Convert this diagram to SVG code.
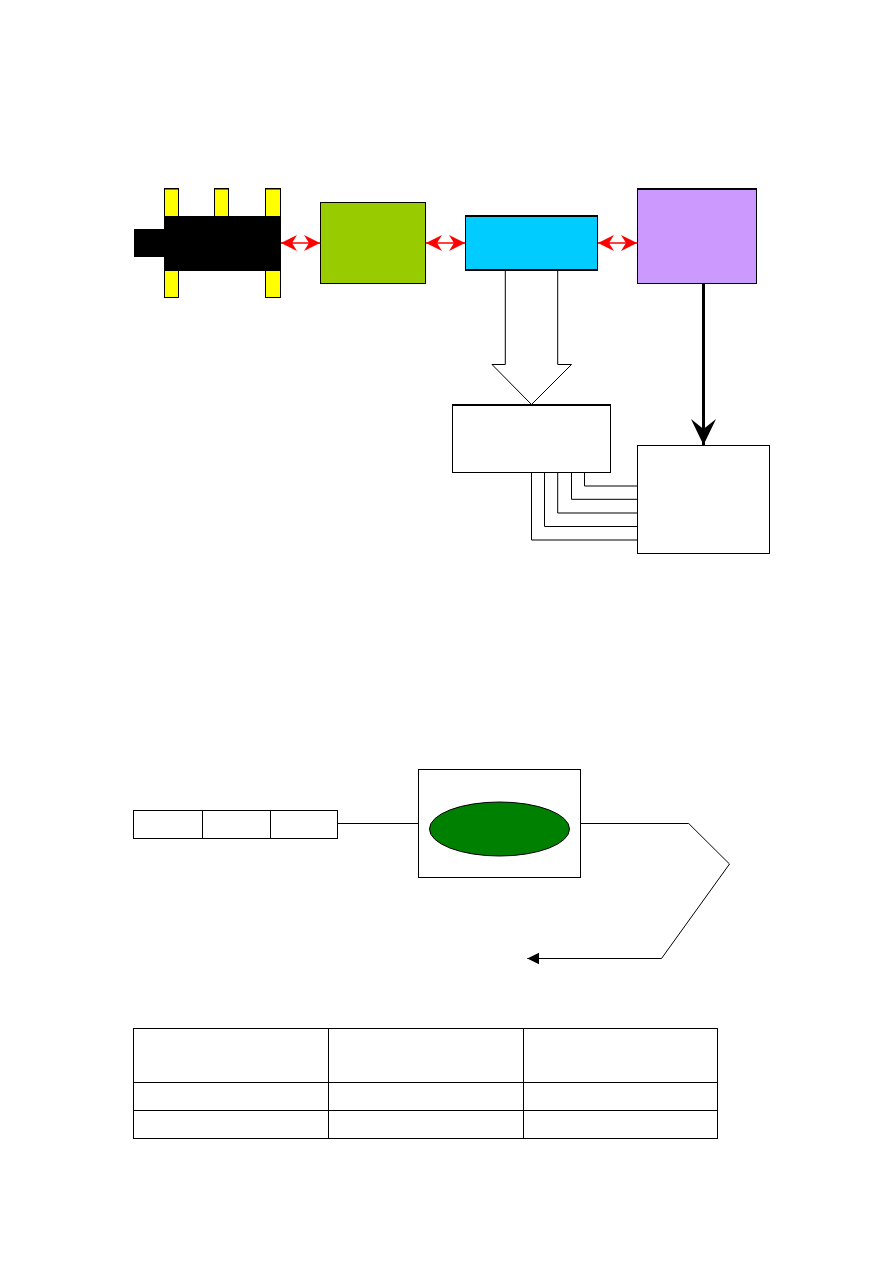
<svg xmlns="http://www.w3.org/2000/svg" width="893" height="1263" viewBox="0 0 893 1263">
<style>
.b{stroke:#000;stroke-width:1;fill:#fff}
.y{stroke:#000;stroke-width:1;fill:#ff0}
.k{fill:#000;stroke:none}
.c{stroke:#000;stroke-width:1;fill:none}
.r{stroke:#f00;stroke-width:1.5;fill:none;marker-start:url(#red);marker-end:url(#red)}
</style>
<defs>
<marker id="red" markerUnits="userSpaceOnUse" markerWidth="17" markerHeight="18" refX="16" refY="9" orient="auto-start-reverse"><path d="M16 9L0 1L5 9L0 17Z" fill="#f00"/></marker>
<marker id="bigk" markerUnits="userSpaceOnUse" markerWidth="27" markerHeight="28" refX="26" refY="14" orient="auto"><path d="M26 14L0 1.5L10 14L0 26.5Z" fill="#000"/></marker>
<marker id="smallk" markerUnits="userSpaceOnUse" markerWidth="13" markerHeight="14" refX="12" refY="7" orient="auto"><path d="M12 7L0 1.2V12.8Z" fill="#000"/></marker>
</defs>
<rect width="893" height="1263" fill="#fff"/>
<g id="chip">
<rect class="y" x="164.5" y="188.5" width="14" height="28"/>
<rect class="y" x="214.5" y="188.5" width="14" height="28"/>
<rect class="y" x="265.5" y="188.5" width="15" height="28"/>
<rect class="y" x="164.5" y="270.5" width="14" height="27"/>
<rect class="y" x="265.5" y="270.5" width="15" height="27"/>
<rect class="k" x="164" y="216" width="117" height="55"/>
<rect class="k" x="134" y="229" width="30" height="28"/>
<path class="c" d="M164 189H179M214 189H229M265 189H281"/>
</g>
<g id="green"><rect class="b" style="fill:#9c0" x="320.5" y="202.5" width="105" height="81"/></g>
<g id="blue"><rect class="b" style="fill:#0cf" x="465.5" y="215.5" width="132" height="55"/><path class="c" d="M465 216.5H598M465 269.5H598"/></g>
<g id="purple"><rect class="b" style="fill:#c9f" x="637.5" y="188.5" width="119" height="95"/><path class="c" d="M637 189.5H757"/></g>
<g id="box1"><rect class="b" x="452.5" y="404.5" width="158" height="68"/><path class="c" d="M452 405.5H611"/></g>
<g id="box2"><rect class="b" x="637.5" y="445.5" width="132" height="108"/></g>
<g id="strip">
<rect class="b" x="133.5" y="810.5" width="204" height="28"/>
<path class="c" d="M202.5 810V839M270.5 810V839"/>
</g>
<g id="green-ellipse-box">
<rect class="b" x="418.5" y="769.5" width="162" height="108"/>
<ellipse cx="499.5" cy="829" rx="70" ry="27" fill="#008000" stroke="#000" stroke-width="1"/>
</g>
<g id="table">
<rect class="b" x="133.5" y="1028.5" width="584" height="110"/>
<path class="c" d="M328.5 1028V1139M523.5 1028V1139M133 1082.5H718M133 1110.5H718"/>
</g>
<g id="connectors">
<path class="r" d="M281 243H320"/>
<path class="r" d="M426 243H465"/>
<path class="r" d="M598 243H637"/>
<path d="M505.3 271V364.5H492L531.5 404.5L571.5 364.5H557.7V271" fill="#fff" stroke="#000" stroke-width="1"/>
<path d="M703.5 284V445" stroke="#000" stroke-width="3" fill="none" marker-end="url(#bigk)"/>
<path class="c" d="M584.5 473V486H637M571.5 473V499.3H637M557.7 473V513H637M544.5 473V526.5H637M531.5 473V540H637"/>
<path class="c" d="M338 823.5H418"/>
<path class="c" d="M581 823.5H688.7L729.5 864L661.5 958.5H527.3" marker-end="url(#smallk)"/>
</g>
</svg>
